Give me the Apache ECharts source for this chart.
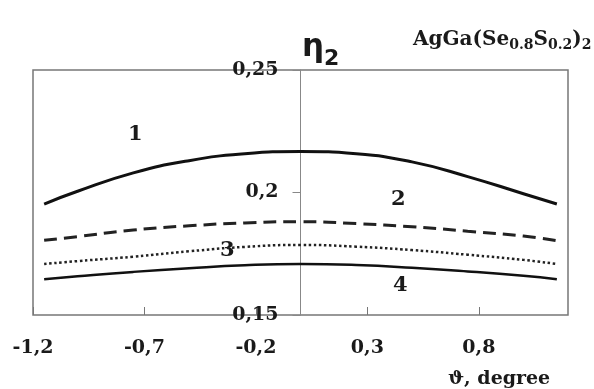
<!DOCTYPE html>
<html>
<head>
<meta charset="utf-8">
<script src="https://cdn.jsdelivr.net/npm/echarts@6/dist/echarts.min.js"></script>
<style>
  html, body { margin: 0; padding: 0; background: #fff; }
  #eta_chart { width: 594px; height: 389px; }
</style>
</head>
<body>
<div id="eta_chart"></div>
<script>
// data
var thetaValues = [-1.15, -1.0, -0.75, -0.5, -0.25, 0, 0.25, 0.5, 0.75, 1.0, 1.15];
var curve1 = [0.1953, 0.2005, 0.2080, 0.2130, 0.2158, 0.2167, 0.2158, 0.2125, 0.2065, 0.1995, 0.1953];
var curve2 = [0.1805, 0.1820, 0.1847, 0.1864, 0.1876, 0.1881, 0.1873, 0.1860, 0.1842, 0.1822, 0.1803];
var curve3 = [0.1708, 0.1720, 0.1738, 0.1760, 0.1778, 0.1786, 0.1779, 0.1765, 0.1746, 0.1725, 0.1708];
var curve4 = [0.1646, 0.1658, 0.1676, 0.1691, 0.1703, 0.1708, 0.1704, 0.1693, 0.1678, 0.1660, 0.1646];
var xTickValues = [-1.2, -0.7, -0.2, 0.3, 0.8];
var curveLabels = ['1', '2', '3', '4'];

var serif = '"DejaVu Serif", "Liberation Serif", serif';
var ink = '#1a1a1a';
var gridLeft = 33;

function pairs(ys) {
    return thetaValues.map(function (x, i) { return [x, ys[i]]; });
}
function comma(v) {
    return String(+v.toFixed(2)).replace('.', ',');
}

// text with subscripts, laid out by measured widths
var measureCtx = document.createElement('canvas').getContext('2d');
function textRun(x, y, parts) {
    var out = [];
    parts.forEach(function (p) {
        var font = 'bold ' + p.size + 'px ' + p.family;
        measureCtx.font = font;
        out.push({
            type: 'text', x: x, y: y + (p.dy || 0),
            style: { text: p.t, font: font, fill: ink, verticalAlign: 'middle' }
        });
        x += measureCtx.measureText(p.t).width;
    });
    return out;
}

var chart = echarts.init(document.getElementById('eta_chart'));

var lineBase = { type: 'line', smooth: true, symbol: 'none', silent: true };

option = {
    animation: false,
    grid: {
        left: gridLeft, right: 26, top: 70, bottom: 74,
        show: true, borderColor: '#777', borderWidth: 1.5,
        outerBoundsMode: 'none'
    },
    xAxis: {
        type: 'value',
        min: -1.2,
        max: 1.2,
        splitLine: { show: false },
        axisLine: { show: false },
        axisTick: {
            show: true, inside: true, length: 8,
            customValues: xTickValues,
            lineStyle: { color: '#777' }
        },
        axisLabel: {
            customValues: xTickValues,
            margin: 24,
            formatter: function (v) { return comma(v); },
            fontFamily: serif, fontWeight: 'bold', fontSize: 19, color: ink
        }
    },
    yAxis: {
        type: 'value',
        min: 0.15,
        max: 0.25,
        interval: 0.05,
        splitLine: { show: false },
        axisLine: { show: true, onZero: false, lineStyle: { color: '#888', width: 1 } },
        axisTick: { show: true, inside: false, length: 8, lineStyle: { color: '#888' } },
        axisLabel: {
            margin: 22,
            formatter: function (v) { return comma(v); },
            fontFamily: serif, fontWeight: 'bold', fontSize: 19, color: ink
        }
    },
    series: [
        Object.assign({}, lineBase, {
            name: '1', data: pairs(curve1),
            lineStyle: { color: '#111', width: 3 }
        }),
        Object.assign({}, lineBase, {
            name: '2', data: pairs(curve2),
            lineStyle: { color: '#222', width: 3, type: [13, 7] }
        }),
        Object.assign({}, lineBase, {
            name: '3', data: pairs(curve3),
            lineStyle: { color: '#222', width: 2.5, type: [2.5, 2.6] }
        }),
        Object.assign({}, lineBase, {
            name: '4', data: pairs(curve4),
            lineStyle: { color: '#111', width: 2.5 }
        })
    ],
    graphic: [].concat(
        // eta_2 axis title
        textRun(302, 48, [
            { t: '\u03b7', size: 31, family: '"DejaVu Sans", sans-serif' },
            { t: '2', size: 22, family: '"DejaVu Sans", sans-serif', dy: 11 }
        ]),
        // compound name
        textRun(413, 40, [
            { t: 'AgGa(Se', size: 20, family: serif },
            { t: '0.8', size: 14, family: serif, dy: 5 },
            { t: 'S', size: 20, family: serif },
            { t: '0.2', size: 14, family: serif, dy: 5 },
            { t: ')', size: 20, family: serif },
            { t: '2', size: 14, family: serif, dy: 5 }
        ]),
        // x axis name
        textRun(448, 379, [
            { t: '\u03d1, degree', size: 19, family: serif }
        ]),
        // curve numbers
        textRun(128, 135, [{ t: curveLabels[0], size: 21, family: serif }]),
        textRun(391, 200, [{ t: curveLabels[1], size: 21, family: serif }]),
        textRun(220, 251, [{ t: curveLabels[2], size: 21, family: serif }]),
        textRun(393, 286, [{ t: curveLabels[3], size: 21, family: serif }])
    )
};

chart.setOption(option);

// move the eta axis (line, ticks and labels) to theta = 0
var zeroX = chart.convertToPixel({ xAxisIndex: 0 }, 0);
chart.setOption({ yAxis: { offset: -(zeroX - gridLeft) } });
</script>
</body>
</html>
